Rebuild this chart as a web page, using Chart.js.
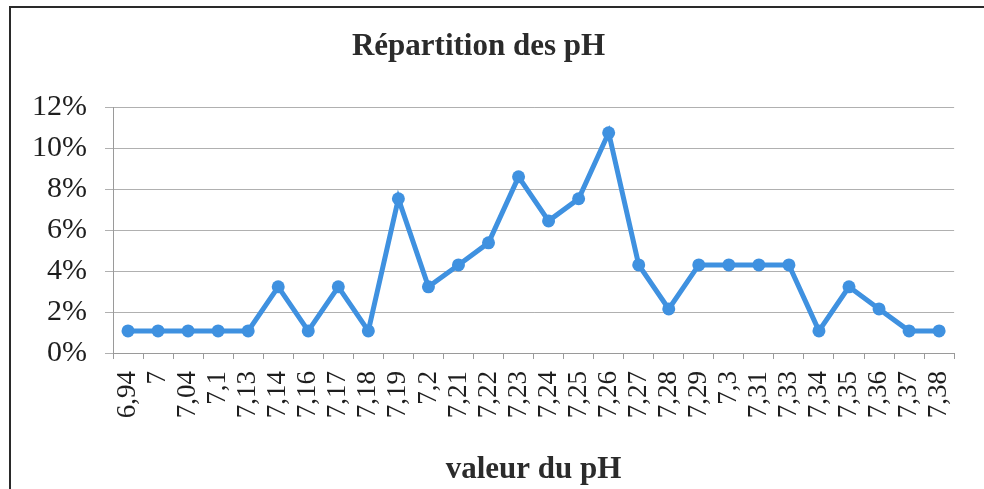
<!DOCTYPE html>
<html>
<head>
<meta charset="utf-8">
<script src="https://cdn.jsdelivr.net/npm/chart.js@4.4.1/dist/chart.umd.min.js"></script>
<style>
  html, body { margin: 0; padding: 0; background: #fff; overflow: hidden; }
  #wrap { position: relative; width: 984px; height: 489px; overflow: hidden; }
  #frame {
    position: absolute; left: 9px; top: 6px; width: 1100px; height: 600px;
    border: 2px solid #2a2a2a; pointer-events: none;
  }
</style>
</head>
<body>
<div id="wrap">
  <canvas id="ph-chart" width="984" height="489"></canvas>
  <div id="frame"></div>
</div>
<script>
const phLabels = ['6,94', '7', '7,04', '7,1', '7,13', '7,14', '7,16', '7,17', '7,18', '7,19',
    '7,2', '7,21', '7,22', '7,23', '7,24', '7,25', '7,26', '7,27', '7,28', '7,29',
    '7,3', '7,31', '7,33', '7,34', '7,35', '7,36', '7,37', '7,38'];
const phShare = [1.08, 1.08, 1.08, 1.08, 1.08, 3.23, 1.08, 3.23, 1.08, 7.53,
    3.23, 4.30, 5.38, 8.60, 6.45, 7.53, 10.75, 4.30, 2.15, 4.30,
    4.30, 4.30, 4.30, 1.08, 3.23, 2.15, 1.08, 1.08];
const yTicks = [0, 2, 4, 6, 8, 10, 12];

const serif = "'Liberation Serif', 'Times New Roman', serif";
const blue = '#3f91e0';

const ctx = document.getElementById('ph-chart').getContext('2d');
new Chart(ctx, {
    type: 'line',
    data: {
        labels: phLabels,
        datasets: [{
            data: phShare,
            borderColor: blue,
            backgroundColor: blue,
            borderWidth: 5,
            pointRadius: 6.5,
            pointBorderWidth: 0,
            tension: 0
        }]
    },
    options: {
        responsive: false,
        animation: false,
        layout: { padding: { left: 0, right: 27, top: 0, bottom: 0 } },
        plugins: {
            legend: { display: false },
            tooltip: { enabled: false },
            title: {
                display: true,
                text: 'Répartition des pH',
                color: '#2b2b2b',
                font: { family: serif, size: 31, weight: 'bold' },
                padding: { top: 28, bottom: 42 }
            }
        },
        scales: {
            x: {
                offset: true,
                afterFit: (scale) => { scale.height = 136; },
                grid: {
                    offset: true,
                    drawOnChartArea: false,
                    drawTicks: true,
                    tickLength: 6,
                    color: '#9a9a9a'
                },
                border: { color: '#9a9a9a' },
                ticks: {
                    autoSkip: false,
                    minRotation: 90,
                    maxRotation: 90,
                    padding: 12,
                    color: '#1e1e1e',
                    font: { family: serif, size: 27 }
                },
                title: {
                    display: true,
                    text: 'valeur du pH',
                    color: '#2b2b2b',
                    font: { family: serif, size: 31, weight: 'bold' },
                    padding: { top: 0, bottom: 0 }
                }
            },
            y: {
                min: 0,
                max: 12,
                afterFit: (scale) => { scale.width = 113; },
                afterBuildTicks: (scale) => { scale.ticks = yTicks.map(v => ({ value: v })); },
                grid: { color: '#b0b0b0', tickLength: 8 },
                border: { color: '#9a9a9a' },
                ticks: {
                    padding: 18,
                    color: '#1e1e1e',
                    font: { family: serif, size: 30 },
                    callback: (v) => v + '%'
                }
            }
        }
    }
});
</script>
</body>
</html>
